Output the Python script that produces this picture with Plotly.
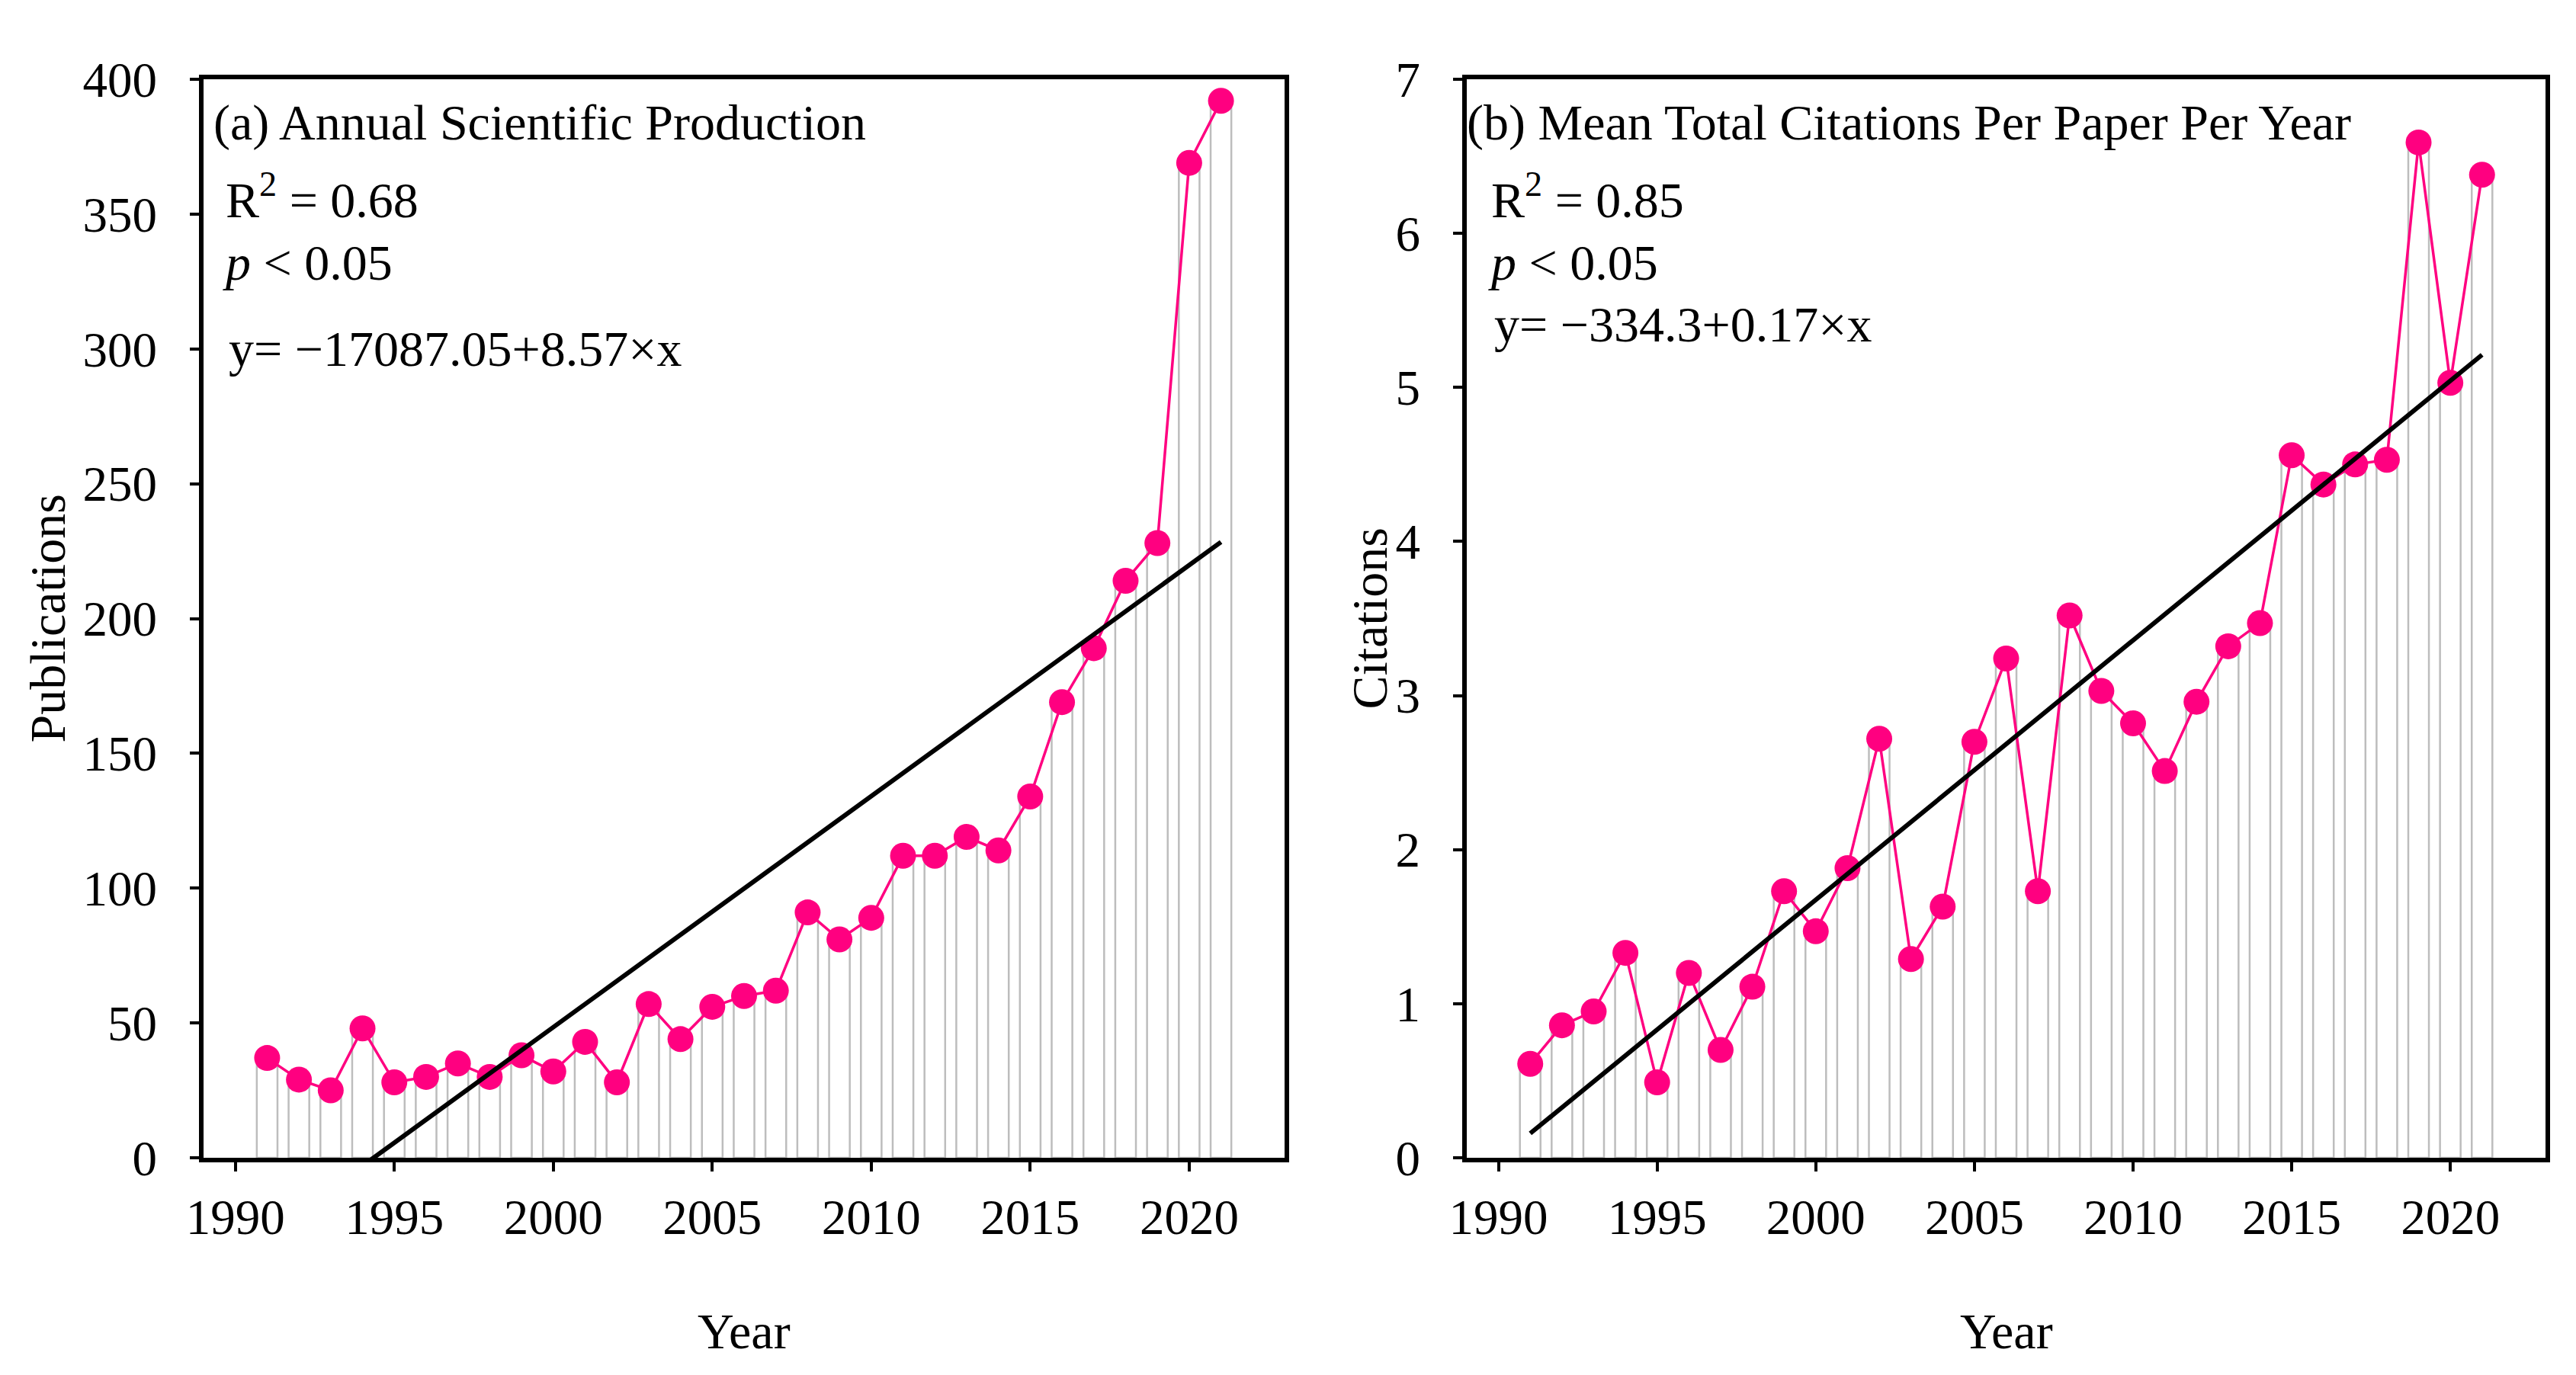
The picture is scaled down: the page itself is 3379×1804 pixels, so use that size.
import numpy as np
import plotly.graph_objects as go

W, H = 3379, 1804

years = list(range(1991, 2022))
publications = [37, 29, 25, 48, 28, 30, 35, 30, 38, 32, 43, 28, 57, 44, 56, 60, 62,
                91, 81, 89, 112, 112, 119, 114, 134, 169, 189, 214, 228, 369, 392]
citations = [0.61, 0.86, 0.95, 1.33, 0.49, 1.20, 0.70, 1.11, 1.73, 1.47, 1.88, 2.72,
             1.29, 1.63, 2.70, 3.24, 1.73, 3.52, 3.03, 2.82, 2.51, 2.96, 3.32, 3.47,
             4.56, 4.37, 4.50, 4.53, 6.59, 5.03, 6.38]
x_ticks = [1990, 1995, 2000, 2005, 2010, 2015, 2020]
pub_ticks = [0, 50, 100, 150, 200, 250, 300, 350, 400]
cit_ticks = [0, 1, 2, 3, 4, 5, 6, 7]

panel_titles = ["(a) Annual Scientific Production",
                "(b) Mean Total Citations Per Paper Per Year"]
r2_texts = ["R<sup>2</sup> = 0.68", "R<sup>2</sup> = 0.85"]
p_texts = ["<i>p</i> &lt; 0.05", "<i>p</i> &lt; 0.05"]
eq_texts = ["y= \u221217087.05+8.57\u00d7x", "y= \u2212334.3+0.17\u00d7x"]
y_titles = ["Publications", "Citations"]

PINK = "#FF0080"
BAR_LINE = "#bdbdbd"
FONT = "Liberation Serif"

def px(v):
    return v / W

def py(v):
    return 1 - v / H

fig = go.Figure()

series = [publications, citations]
for i, vals in enumerate(series):
    xa = "x" if i == 0 else "x2"
    ya = "y" if i == 0 else "y2"
    fig.add_trace(go.Bar(x=years, y=vals, width=0.65, xaxis=xa, yaxis=ya,
                         marker=dict(color="white", line=dict(color=BAR_LINE, width=2.5)),
                         showlegend=False, hoverinfo="skip"))
    fig.add_trace(go.Scatter(x=years, y=vals, mode="lines+markers", xaxis=xa, yaxis=ya,
                             line=dict(color=PINK, width=3.5),
                             marker=dict(size=34, color=PINK),
                             showlegend=False))
    coef = np.polyfit(years, vals, 1)
    fx = [years[0], years[-1]]
    fy = list(np.polyval(coef, fx))
    fig.add_trace(go.Scatter(x=fx, y=fy, mode="lines", xaxis=xa, yaxis=ya,
                             line=dict(color="black", width=6),
                             showlegend=False))

# panel geometry (pixels)
left_x = [(259, 1677), (1916, 3331)]
top_y, bot_y = 96, 1511

axis_common = dict(showline=True, linecolor="black", linewidth=6, mirror=True,
                   ticks="outside", ticklen=12, tickwidth=4, tickcolor="black",
                   showgrid=False, zeroline=False, automargin=False,
                   tickfont=dict(family=FONT, size=65, color="black"))

fig.update_layout(
    template="none",
    width=W, height=H,
    margin=dict(l=0, r=0, t=0, b=0, autoexpand=False),
    paper_bgcolor="white", plot_bgcolor="white",
    barmode="overlay",
    xaxis=dict(domain=[px(left_x[0][0]), px(left_x[0][1])], anchor="y",
               range=[1989, 2023], tickvals=x_ticks, ticklabelstandoff=4, **axis_common),
    yaxis=dict(domain=[py(bot_y), py(top_y)], anchor="x",
               range=[0, 400], tickvals=pub_ticks, ticklabelstandoff=30, **axis_common),
    xaxis2=dict(domain=[px(left_x[1][0]), px(left_x[1][1])], anchor="y2",
                range=[1989, 2023], tickvals=x_ticks, ticklabelstandoff=4, **axis_common),
    yaxis2=dict(domain=[py(bot_y), py(top_y)], anchor="x2",
                range=[0, 7], tickvals=cit_ticks, ticklabelstandoff=30, **axis_common),
)

ann_font = dict(family=FONT, size=66, color="black")
annotations = []
title_x = [270, 1914]
stat_x = [286, 1946]
eq_y = [449, 417]
for i in range(2):
    annotations.append(dict(x=px(title_x[i]), y=py(153), xref="paper", yref="paper",
                            text=panel_titles[i], showarrow=False, xanchor="left",
                            yanchor="middle", font=ann_font))
    annotations.append(dict(x=px(stat_x[i]), y=py(250), xref="paper", yref="paper",
                            text=r2_texts[i], showarrow=False, xanchor="left",
                            yanchor="middle", font=ann_font))
    annotations.append(dict(x=px(stat_x[i] - 4), y=py(337), xref="paper", yref="paper",
                            text=p_texts[i], showarrow=False, xanchor="left",
                            yanchor="middle", font=ann_font))
    annotations.append(dict(x=px(stat_x[i] + 4), y=py(eq_y[i]), xref="paper", yref="paper",
                            text=eq_texts[i], showarrow=False, xanchor="left",
                            yanchor="middle", font=ann_font))
    cx = (left_x[i][0] + left_x[i][1]) / 2
    annotations.append(dict(x=px(cx), y=py(1738), xref="paper", yref="paper",
                            text="Year", showarrow=False, xanchor="center",
                            yanchor="middle", font=ann_font))
yt_x = [54, 1788]
for i in range(2):
    annotations.append(dict(x=px(yt_x[i]), y=py((top_y + bot_y) / 2), xref="paper", yref="paper",
                            text=y_titles[i], showarrow=False, textangle=-90,
                            xanchor="center", yanchor="middle", font=ann_font))
fig.update_layout(annotations=annotations)

fig.write_html("out.html")
